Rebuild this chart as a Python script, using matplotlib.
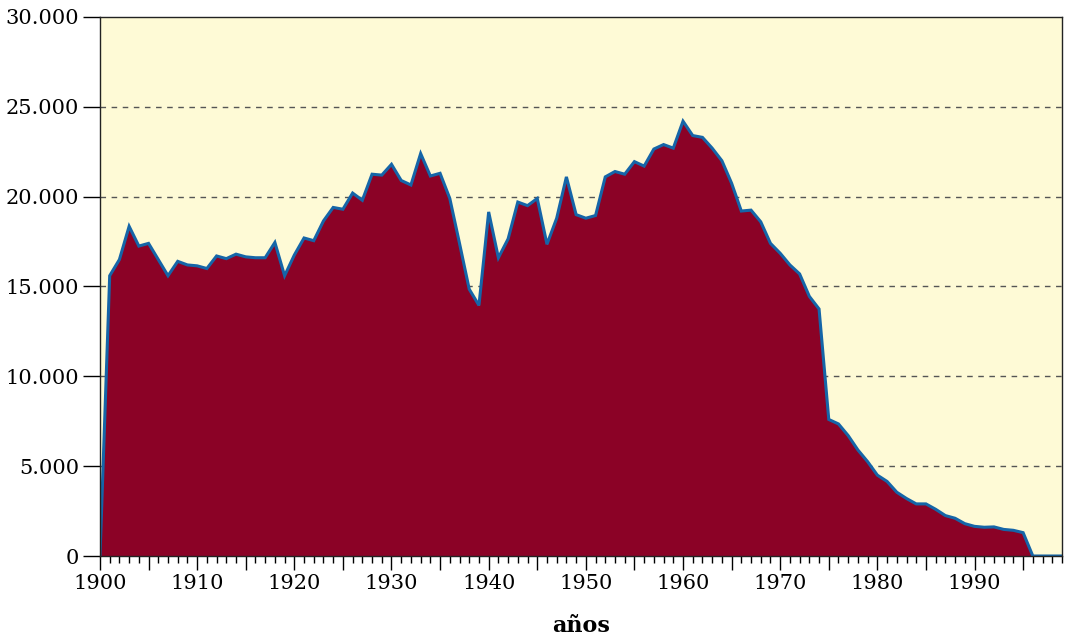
import numpy as np
import matplotlib
matplotlib.use("Agg")
import matplotlib.pyplot as plt
from matplotlib.ticker import MultipleLocator, FuncFormatter

years = list(range(1900, 2000))
values = [
    0, 15600, 16500, 18350, 17250, 17400, 16500, 15600, 16400, 16200,
    16150, 16000, 16700, 16550, 16800, 16650, 16600, 16600, 17450, 15600,
    16750, 17700, 17550, 18650, 19400, 19300, 20200, 19800, 21250, 21200,
    21800, 20900, 20650, 22400, 21150, 21300, 19900, 17400, 14850, 13950,
    19150, 16600, 17650, 19700, 19500, 19900, 17350, 18800, 21100, 19000,
    18800, 18950, 21100, 21400, 21250, 21950, 21700, 22650, 22900, 22700,
    24200, 23400, 23300, 22700, 22000, 20750, 19200, 19250, 18600, 17400,
    16850, 16200, 15700, 14450, 13750, 7600, 7350, 6700, 5900, 5250,
    4500, 4150, 3550, 3200, 2900, 2900, 2600, 2250, 2100, 1800,
    1650, 1600, 1620, 1480, 1430, 1300, 0, 0, 0, 0,
]
yticks = [0, 5000, 10000, 15000, 20000, 25000, 30000]
xticklabels = list(range(1900, 2000, 10))
xlabel = "años"

plt.rcParams['font.family'] = ['DejaVu Serif']

fig = plt.figure(figsize=(10.67, 6.41), dpi=100)
ax = fig.add_axes([0.0937, 0.1326, 0.9016, 0.8409])
ax.set_facecolor('#fefad6')

ax.fill_between(years, values, 0, color='#8b0226', lw=0, zorder=2)
ax.plot(years, values, color='#1565a8', lw=2.2, zorder=3, solid_joinstyle='miter')

ax.set_xlim(1900, 1999)
ax.set_ylim(0, 30000)
ax.set_yticks(yticks)
ax.yaxis.set_major_formatter(FuncFormatter(lambda v, p: f"{int(v):,}".replace(",", ".")))

# long ticks every 5 years, labels every 10, short ticks every year
ax.xaxis.set_major_locator(MultipleLocator(5))
ax.xaxis.set_minor_locator(MultipleLocator(1))
ax.xaxis.set_major_formatter(FuncFormatter(lambda v, p: str(int(v)) if int(round(v)) in xticklabels else ""))

for y in yticks[1:-1]:
    ax.axhline(y, color='#555555', lw=1, ls=(0, (4, 4)), zorder=1)

ax.tick_params(axis='y', direction='out', length=12, width=1, labelsize=15, pad=3)
ax.tick_params(axis='x', which='major', direction='out', length=10, width=1, labelsize=15, pad=3)
ax.tick_params(axis='x', which='minor', direction='out', length=5, width=1)

for s in ax.spines.values():
    s.set_color('#222222')
    s.set_linewidth(1)
    s.set_zorder(4)

ax.set_xlabel(xlabel, fontsize=16, fontweight='bold', labelpad=16)

fig.savefig('out.png', dpi=100)
